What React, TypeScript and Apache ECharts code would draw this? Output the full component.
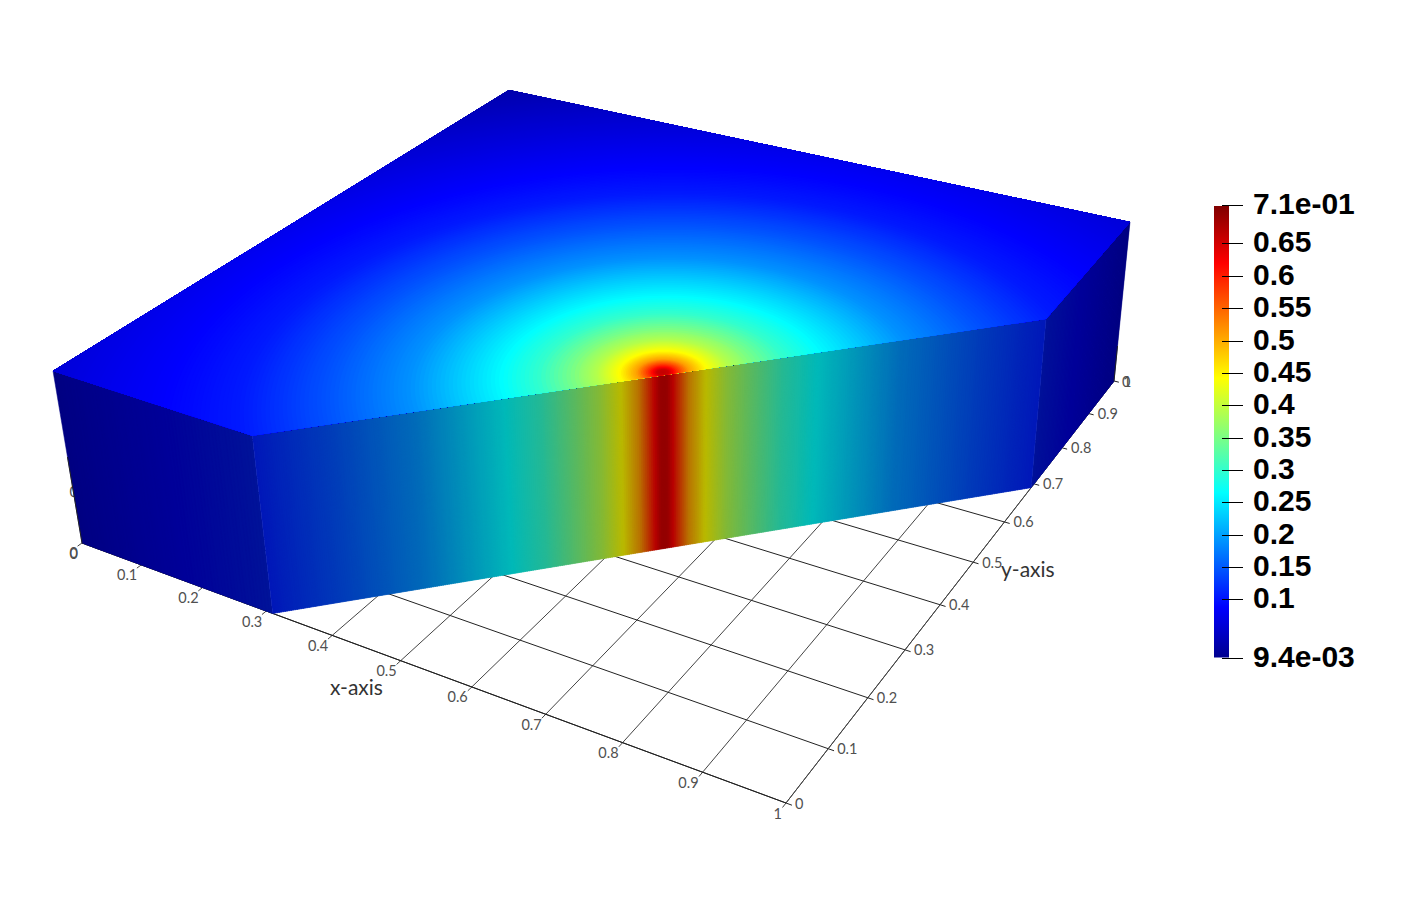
import React, { useEffect, useRef } from "react";
import * as echarts from "echarts";

const WIDTH = 1404;
const HEIGHT = 914;

// Axis tick values
const xTicks = [0, 0.1, 0.2, 0.3, 0.4, 0.5, 0.6, 0.7, 0.8, 0.9, 1];
const yTicks = [0, 0.1, 0.2, 0.3, 0.4, 0.5, 0.6, 0.7, 0.8, 0.9, 1];

// Domain outline (pentagon: the unit square with one corner cut)
const outline: number[][] = [[0, 0], [0.31, 0], [1, 0.69], [1, 1], [0, 1]];
const source = [0.65, 0.35];

// Field: value against distance from the source
const profileR = [0, 0.008, 0.018, 0.032, 0.052, 0.08, 0.11, 0.15, 0.2, 0.25, 0.3, 0.4, 0.5, 0.6, 0.74, 0.92, 1.0];
const profileV = [0.665, 0.655, 0.59, 0.51, 0.445, 0.39, 0.35, 0.3, 0.26, 0.225, 0.19, 0.145, 0.105, 0.085, 0.06, 0.03, 0.02];

// Colour bar
const barMin = 0.0094;
const barMax = 0.7094;
const barTicks = [0.1, 0.15, 0.2, 0.25, 0.3, 0.35, 0.4, 0.45, 0.5, 0.55, 0.6, 0.65];
const jetPos = [0, 0.111, 0.365, 0.492, 0.619, 0.873, 1];
const jetRgb = [[0, 0, 0.5625], [0, 0, 1], [0, 1, 1], [0.5, 1, 0.5], [1, 1, 0], [1, 0, 0], [0.5, 0, 0]];

// Lighting of each face
const lightFront = 0.725;
const lightSide = 0.6;

// Screen quads of the unit square on the top of the block and on the floor
const topQuad = [[53, 371], [793, 611], [1130, 222], [509, 90]];
const floorQuad = [[82, 543], [786, 803], [1114, 381], [516, 234]];

function homography(q: number[][]) {
  const [[x0, y0], [x1, y1], [x2, y2], [x3, y3]] = q;
  const dx1 = x1 - x2, dy1 = y1 - y2, dx2 = x3 - x2, dy2 = y3 - y2;
  const sx = x0 - x1 + x2 - x3, sy = y0 - y1 + y2 - y3;
  const den = dx1 * dy2 - dx2 * dy1;
  const g = (sx * dy2 - dx2 * sy) / den;
  const h = (dx1 * sy - sx * dy1) / den;
  const a = x1 - x0 + g * x1, b = x3 - x0 + h * x3;
  const d = y1 - y0 + g * y1, e = y3 - y0 + h * y3;
  return (u: number, v: number) => {
    const w = g * u + h * v + 1;
    return [(a * u + b * v + x0) / w, (d * u + e * v + y0) / w];
  };
}
const onTop = homography(topQuad);
const onFloor = homography(floorQuad);

function fieldAt(r: number) {
  for (let i = 1; i < profileR.length; i++) {
    if (r <= profileR[i]) {
      const t = (r - profileR[i - 1]) / (profileR[i] - profileR[i - 1]);
      return profileV[i - 1] + t * (profileV[i] - profileV[i - 1]);
    }
  }
  return profileV[profileV.length - 1];
}

function jet(value: number, light: number) {
  const t = Math.min(1, Math.max(0, (value - barMin) / (barMax - barMin)));
  let k = 1;
  while (k < jetPos.length - 1 && t > jetPos[k]) k++;
  const f = (t - jetPos[k - 1]) / (jetPos[k] - jetPos[k - 1]);
  const c = jetRgb[k - 1].map((v, i) => Math.round(255 * light * (v + f * (jetRgb[k][i] - v))));
  return `rgb(${c[0]},${c[1]},${c[2]})`;
}

function distance(u: number, v: number) {
  return Math.hypot(u - source[0], v - source[1]);
}

// Clip a polygon to the convex domain outline
function clipToOutline(poly: number[][]) {
  let out = poly;
  for (let i = 0; i < outline.length && out.length; i++) {
    const a = outline[i], b = outline[(i + 1) % outline.length];
    const side = (p: number[]) => (b[0] - a[0]) * (p[1] - a[1]) - (b[1] - a[1]) * (p[0] - a[0]);
    const next: number[][] = [];
    for (let j = 0; j < out.length; j++) {
      const p = out[j], q = out[(j + 1) % out.length];
      const sp = side(p), sq = side(q);
      if (sp >= 0) next.push(p);
      if ((sp >= 0) !== (sq >= 0)) {
        const t = sp / (sp - sq);
        next.push([p[0] + t * (q[0] - p[0]), p[1] + t * (q[1] - p[1])]);
      }
    }
    out = next;
  }
  return out;
}

// Contour radii, largest first, so that each ring paints over the last
const ringRadii: number[] = [];
for (let r = 1.0; r > 0.1; r -= 0.005) ringRadii.push(r);
for (let r = 0.1; r > 0.001; r -= 0.002) ringRadii.push(r);

// Strips along the three visible walls
function stripsOf(a: number[], b: number[], count: number, light: number) {
  const list: { a: number[]; b: number[]; fill: string }[] = [];
  for (let i = 0; i < count; i++) {
    const s0 = i / count, s1 = (i + 1.6) / count > 1 ? 1 : (i + 1.6) / count;
    const p = [a[0] + s0 * (b[0] - a[0]), a[1] + s0 * (b[1] - a[1])];
    const q = [a[0] + s1 * (b[0] - a[0]), a[1] + s1 * (b[1] - a[1])];
    const m = [(p[0] + q[0]) / 2, (p[1] + q[1]) / 2];
    list.push({ a: p, b: q, fill: jet(fieldAt(distance(m[0], m[1])), light) });
  }
  return list;
}
const wallStrips = [
  ...stripsOf(outline[0], outline[1], 60, lightSide),
  ...stripsOf(outline[2], outline[3], 60, lightSide),
  ...stripsOf(outline[1], outline[2], 400, lightFront),
];

const gridSegments = [
  ...xTicks.map((t) => ({ from: [t, -0.008], to: [t, 1], color: "#444" })),
  ...yTicks.map((t) => ({ from: [1.007, t], to: [0, t], color: "#222" })),
  { from: [0, 0], to: [1, 0], color: "#222" },
  { from: [1, 0], to: [1, 1], color: "#444" },
];

const tickLabels = [
  ...xTicks.map((t) => ({ text: String(t), at: [t, 0], dx: -4, dy: 10, align: "right" })),
  ...yTicks.map((t) => ({ text: String(t), at: [1, t], dx: 9, dy: 0, align: "left" })),
  { text: "0", at: [0, 0], dx: -4, dy: 9, align: "right" },
  { text: "0", at: [1, 1], dx: 8, dy: 0, align: "left" },
  { text: "0", at: [0, 0], dx: -4, dy: -52, align: "right" },
];

// The vertical axis is only seen along two edges of the block
const edgeSegments = [
  { at: [0, 0], share: 0.5 },
  { at: [1, 1], share: 0.22 },
];

const barStops = jetPos.map((p, i) => ({
  offset: p,
  color: `rgb(${jetRgb[i].map((v) => Math.round(v * 255)).join(",")})`,
}));

export default function App() {
  const ref = useRef<HTMLDivElement>(null);
  useEffect(() => {
    const chart = echarts.init(ref.current!, undefined, { renderer: "svg" });
    const barLabel = (v: number) =>
      v === barMax ? "7.1e-01" : v === barMin ? "9.4e-03" : String(v);
    const barValues = [barMin, ...barTicks, barMax];
    chart.setOption({
      animation: false,
      backgroundColor: "#fff",
      tooltip: { show: false },
      grid: [
        { left: 0, top: 0, width: WIDTH, height: HEIGHT },
        { left: 1214, top: 205, width: 29, height: 453 },
      ],
      xAxis: [
        { type: "value", gridIndex: 0, min: 0, max: WIDTH, show: false },
        { type: "value", gridIndex: 1, min: 0, max: 29, show: false },
      ],
      yAxis: [
        { type: "value", gridIndex: 0, min: 0, max: HEIGHT, inverse: true, show: false },
        {
          type: "value",
          gridIndex: 1,
          min: barMin,
          max: barMax,
          position: "right",
          splitLine: { show: false },
          axisLine: { show: false },
          axisTick: { show: false },
          axisLabel: { show: false },
        },
      ],
      series: [
        {
          // floor grid and axes
          type: "custom",
          silent: true,
          clip: false,
          z: 1,
          coordinateSystem: "cartesian2d",
          data: gridSegments.map((_, i) => [i]),
          renderItem: (params: any, api: any) => {
            const s = gridSegments[params.dataIndex];
            const a = api.coord(onFloor(s.from[0], s.from[1]));
            const b = api.coord(onFloor(s.to[0], s.to[1]));
            return {
              type: "line",
              shape: { x1: a[0], y1: a[1], x2: b[0], y2: b[1] },
              style: { stroke: s.color, lineWidth: 1 },
            };
          },
        },
        {
          // tick labels
          type: "custom",
          silent: true,
          clip: false,
          z: 1,
          coordinateSystem: "cartesian2d",
          data: tickLabels.map((_, i) => [i]),
          renderItem: (params: any, api: any) => {
            const l = tickLabels[params.dataIndex];
            const p = api.coord(onFloor(l.at[0], l.at[1]));
            return {
              type: "text",
              x: p[0] + l.dx,
              y: p[1] + l.dy,
              style: {
                text: l.text,
                align: l.align,
                verticalAlign: "middle",
                fill: "#505050",
                fontFamily: "Lato",
                fontSize: 14.5,
              },
            };
          },
        },
        {
          // walls
          type: "custom",
          silent: true,
          clip: false,
          z: 2,
          coordinateSystem: "cartesian2d",
          data: wallStrips.map((_, i) => [i]),
          renderItem: (params: any, api: any) => {
            const s = wallStrips[params.dataIndex];
            const points = [
              onTop(s.a[0], s.a[1]),
              onTop(s.b[0], s.b[1]),
              onFloor(s.b[0], s.b[1]),
              onFloor(s.a[0], s.a[1]),
            ].map((p) => api.coord(p));
            return {
              type: "polygon",
              shape: { points },
              style: { fill: s.fill, stroke: s.fill, lineWidth: 0.5 },
            };
          },
        },
        {
          // top of the block, as nested contour bands
          type: "custom",
          silent: true,
          clip: false,
          z: 3,
          coordinateSystem: "cartesian2d",
          data: ringRadii.map((r) => [r]),
          renderItem: (params: any, api: any) => {
            const r = ringRadii[params.dataIndex];
            const n = 120;
            const circle: number[][] = [];
            for (let i = 0; i < n; i++) {
              const t = (i / n) * Math.PI * 2;
              circle.push([source[0] + r * Math.cos(t), source[1] + r * Math.sin(t)]);
            }
            const clipped = clipToOutline(circle);
            if (clipped.length < 3) return null;
            const points = clipped.map((p) => api.coord(onTop(p[0], p[1])));
            return { type: "polygon", shape: { points }, style: { fill: jet(fieldAt(r), 1) } };
          },
        },
        {
          // vertical axis along the block's edges
          type: "custom",
          silent: true,
          clip: false,
          z: 4,
          coordinateSystem: "cartesian2d",
          data: edgeSegments.map((_, i) => [i]),
          renderItem: (params: any, api: any) => {
            const e = edgeSegments[params.dataIndex];
            const a = onFloor(e.at[0], e.at[1]);
            const t = onTop(e.at[0], e.at[1]);
            const p = api.coord(a);
            const q = api.coord([a[0] + e.share * (t[0] - a[0]), a[1] + e.share * (t[1] - a[1])]);
            return {
              type: "line",
              shape: { x1: p[0], y1: p[1], x2: q[0], y2: q[1] },
              style: { stroke: "#222", lineWidth: 1 },
            };
          },
        },
        {
          // colour bar
          type: "custom",
          silent: true,
          clip: false,
          z: 1,
          xAxisIndex: 1,
          yAxisIndex: 1,
          coordinateSystem: "cartesian2d",
          data: [[0]],
          renderItem: (_: any, api: any) => {
            const a = api.coord([0, barMax]);
            const b = api.coord([15, barMin]);
            return {
              type: "rect",
              shape: { x: a[0], y: a[1] + 1, width: b[0] - a[0], height: b[1] - a[1] - 1.5 },
              style: {
                // offsets count from the bottom of the bar, values rise upwards
                fill: new echarts.graphic.LinearGradient(0, 1, 0, 0, barStops),
              },
            };
          },
        },
        {
          // colour bar ticks and labels
          type: "custom",
          silent: true,
          clip: false,
          z: 2,
          xAxisIndex: 1,
          yAxisIndex: 1,
          coordinateSystem: "cartesian2d",
          data: barValues.map((v) => [0, v]),
          renderItem: (params: any, api: any) => {
            const v = barValues[params.dataIndex];
            const a = api.coord([8, v]);
            const b = api.coord([29, v]);
            const y = Math.round(a[1]) + 0.5;
            return {
              type: "group",
              children: [
                {
                  type: "line",
                  shape: { x1: a[0], y1: y, x2: b[0], y2: y },
                  style: { stroke: "#000", lineWidth: 1 },
                },
                {
                  type: "text",
                  x: b[0] + 10,
                  y: y - 2.5,
                  style: {
                    text: barLabel(v),
                    fill: "#000",
                    align: "left",
                    verticalAlign: "middle",
                    fontFamily: "Liberation Sans",
                    fontWeight: "bold",
                    fontSize: 30,
                  },
                },
              ],
            };
          },
        },
      ],
      graphic: [
        {
          type: "text",
          x: 330,
          y: 686,
          style: { text: "x-axis", fill: "#333", fontFamily: "Lato", fontSize: 21, verticalAlign: "middle" },
        },
        {
          type: "text",
          x: 1001,
          y: 568,
          style: { text: "y-axis", fill: "#333", fontFamily: "Lato", fontSize: 21, verticalAlign: "middle" },
        },
      ],
    });
    return () => chart.dispose();
  }, []);
  return (
    <div
      ref={ref}
      style={{ position: "absolute", left: 0, top: 0, width: WIDTH, height: HEIGHT, background: "#fff" }}
    />
  );
}
